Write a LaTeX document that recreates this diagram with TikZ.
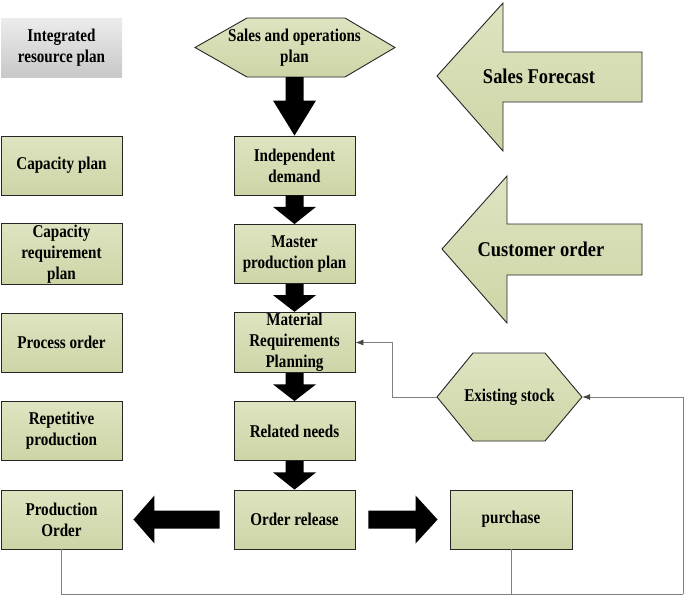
\documentclass[tikz,border=0pt]{standalone}
\usepackage{fontspec}
\setmainfont{Liberation Serif}
\newfontfamily\plainfont{Liberation Serif}[FakeStretch=0.84]
\newfontfamily\widefont{Liberation Serif}[FakeStretch=0.88]
\usepackage{xcolor}
\usetikzlibrary{arrows.meta}
\usetikzlibrary{calc, math}
\definecolor{qolivetop}{RGB}{222,228,192}
\definecolor{qolivebot}{RGB}{205,213,167}
\definecolor{qgreytop}{RGB}{236,236,236}
\definecolor{qgreybot}{RGB}{200,200,200}
\definecolor{qline}{RGB}{128,128,128}
\definecolor{qtip}{RGB}{70,70,70}

\tikzset{
  planbox/.style={draw=black!85, line width=0.9pt, top color=qolivetop, bottom color=qolivebot,
    minimum width=121pt, minimum height=59pt, inner sep=1pt, align=center,
    font=\plainfont\bfseries\fontsize{18}{21}\selectfont},
  plantext/.style={inner sep=0pt, align=center, font=\plainfont\bfseries\fontsize{18}{21}\selectfont},
  bigtext/.style={inner sep=0pt, font=\widefont\bfseries\fontsize{21}{24}\selectfont},
  planfill/.style={draw=black!85, line width=0.9pt, top color=qolivetop, bottom color=qolivebot},
  blkarrow/.style={fill=black},
  link/.style={draw=qline, line width=0.8pt},
  linktip/.style={-{Latex[length=8pt,width=6pt,color=qtip]}},
}

\begin{document}
\begin{tikzpicture}[x=1pt, y=-1pt]

\useasboundingbox (0,0) rectangle (685,595);

\tikzmath{
\xl = 61.5;
\xc = 294.5;
\yt = 165.5;
\dy = 88.5;
}

% top row
\node[planbox, draw=none, top color=qgreytop, bottom color=qgreybot] (irp) at (\xl,47.5) {Integrated\\resource plan};

\draw[planfill] (195,47.5) -- (247,18) -- (345,18) -- (395,47.5) -- (345,77) -- (247,77) -- cycle;
\node[plantext, minimum width=200pt, minimum height=59pt] (sop) at (\xc,47.5) {Sales and operations\\plan};

% left column
\node[planbox] (cap)  at (\xl,\yt) {Capacity plan};
\node[planbox] (crp)  at (\xl,\yt+\dy) {Capacity\\requirement\\plan};
\node[planbox] (proc) at (\xl,\yt+2*\dy) {Process order};
\node[planbox] (rep)  at (\xl,\yt+3*\dy) {Repetitive\\production};
\node[planbox] (prod) at (\xl,\yt+4*\dy) {Production\\Order};

% middle column
\node[planbox] (indep) at (\xc,\yt) {Independent\\demand};
\node[planbox] (mps)   at (\xc,\yt+\dy) {Master\\production plan};
\node[planbox] (mrp)   at (\xc,\yt+2*\dy) {Material\\Requirements\\Planning};
\node[planbox] (rel)   at (\xc,\yt+3*\dy) {Related needs};
\node[planbox] (rls)   at (\xc,\yt+4*\dy) {Order release};

\node[planbox, minimum width=122pt] (purch) at (511,\yt+4*\dy) {purchase};

% big input arrows
\draw[planfill] (437,76) -- (503,3) -- (503,52) -- (642,52) -- (642,102) -- (503,102) -- (503,151) -- cycle;
\node[bigtext] (fcast) at (539,76) {Sales Forecast};

\draw[planfill] (442,249) -- (507,176) -- (507,224) -- (642,224) -- (642,275) -- (507,275) -- (507,323) -- cycle;
\node[bigtext] (cust) at (541,249) {Customer order};

% stock
\draw[planfill] (437,397) -- (473,353) -- (545,353) -- (582,397) -- (545,441) -- (473,441) -- cycle;
\node[plantext, minimum width=145pt, minimum height=88pt] (stock) at (509.5,397) {Existing stock};

% down arrows
\foreach \a/\b in {sop/indep, indep/mps, mps/mrp, mrp/rel, rel/rls}{
  \coordinate (hb) at ($(\a.south)!0.4!(\b.north)$);
  \fill[blkarrow] ($(\a.south)+(-9,0)$) -- ($(hb)+(-9,0)$) -- ($(hb)+(-21.5,0)$) -- (\b.north)
    -- ($(hb)+(21.5,0)$) -- ($(hb)+(9,0)$) -- ($(\a.south)+(9,0)$) -- cycle;
}

% side arrows
\coordinate (lt) at ($(prod.east)+(11,0)$);
\fill[blkarrow] ($(rls.west)+(-14,-9)$) -- ($(lt)+(21,-9)$) -- ($(lt)+(21,-24)$) -- (lt)
  -- ($(lt)+(21,24)$) -- ($(lt)+(21,9)$) -- ($(rls.west)+(-14,9)$) -- cycle;
\coordinate (rt) at ($(purch.west)+(-12,0)$);
\fill[blkarrow] ($(rls.east)+(13,-9)$) -- ($(rt)+(-22,-9)$) -- ($(rt)+(-22,-24)$) -- (rt)
  -- ($(rt)+(-22,24)$) -- ($(rt)+(-22,9)$) -- ($(rls.east)+(13,9)$) -- cycle;

% feedback lines
\coordinate (loopBR) at (683,594);
\draw[link, linktip] (stock.west) -- ++(-44,0) |- (mrp.east);
\draw[link] (prod.south) |- (loopBR);
\draw[link] (purch.south) -- (purch.south |- loopBR);
\draw[link, linktip] (loopBR) |- (stock.east);

\end{tikzpicture}
\end{document}
